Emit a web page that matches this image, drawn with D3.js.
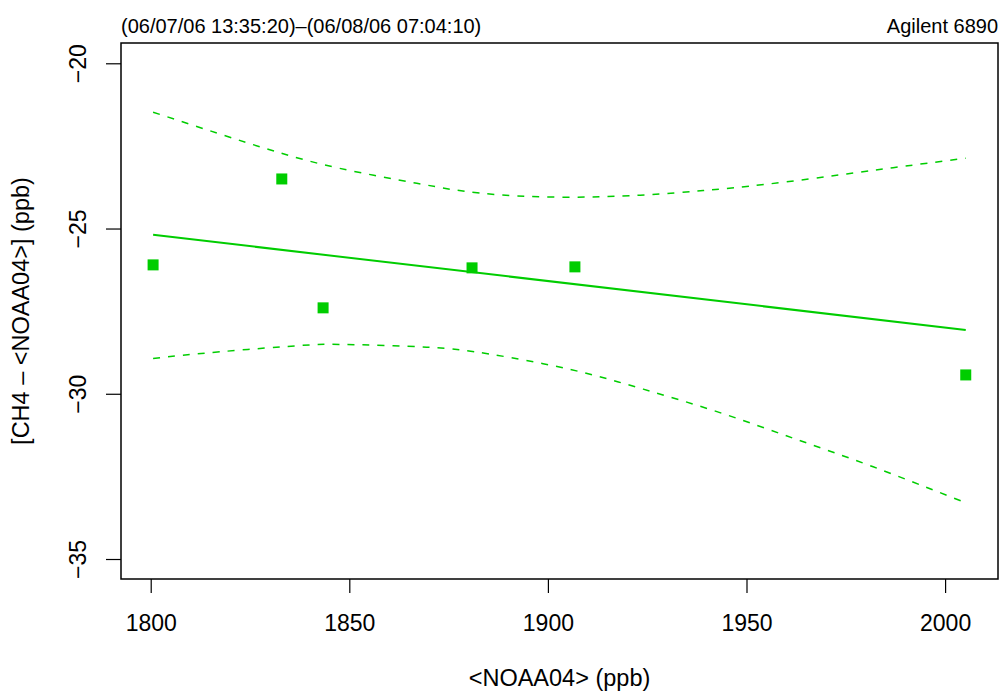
<!DOCTYPE html>
<html>
<head>
<meta charset="utf-8">
<script src="https://cdn.jsdelivr.net/npm/d3@7"></script>
<style>
  body { margin: 0; background: #fff; }
  svg text { font-family: "Liberation Sans", Arial, Helvetica, sans-serif; fill: #000; }
</style>
</head>
<body>
<div id="viz"></div>
<script>
// measured points
var ptX = [1800.6, 1833.0, 1843.4, 1880.9, 1906.8, 2005.2];
var ptY = [-26.10, -23.50, -27.40, -26.19, -26.16, -29.43];

// fitted line end points
var fitX = [1800.6, 2005.2];
var fitY = [-25.19, -28.07];

// dashed bands
var upperX = [1800.6, 1816.9, 1831.7, 1847.6, 1867.0, 1882.9, 1903.0, 1923.2, 1939.1, 1955.0, 1975.2, 1986.9, 2005.2];
var upperY = [-21.48, -22.12, -22.68, -23.18, -23.63, -23.93, -24.05, -23.99, -23.85, -23.66, -23.35, -23.16, -22.87];
var lowerX = [1800.6, 1817.4, 1837.6, 1849.3, 1869.5, 1885.4, 1905.5, 1924.0, 1943.3, 1962.6, 1981.9, 2005.2];
var lowerY = [-28.93, -28.73, -28.54, -28.51, -28.59, -28.80, -29.26, -29.86, -30.57, -31.38, -32.21, -33.30];

var xTicks = [1800, 1850, 1900, 1950, 2000];
var yTicks = [-35, -30, -25, -20];

var titleLeft = '(06/07/06 13:35:20)\u2013(06/08/06 07:04:10)';
var titleRight = 'Agilent 6890';
var xLabel = '<NOAA04> (ppb)';
var yLabel = '[CH4 \u2013 <NOAA04>] (ppb)';

var width = 999,
    height = 691,
    plotL = 121,
    plotR = 998,
    plotT = 43,
    plotB = 579,
    green = '#00cd00';

var xScale = d3.scaleLinear()
    .domain([1792.52, 2013.32])
    .range([plotL, plotR]);

var yScale = d3.scaleLinear()
    .domain([-35.605, -19.386])
    .range([plotB, plotT]);

var svg = d3.select('#viz').append('svg')
    .attr('width', width)
    .attr('height', height)
    .style('background', '#fff');

// axes
var xAxis = svg.append('g')
    .attr('transform', 'translate(0,' + plotB + ')')
    .call(d3.axisBottom(xScale).tickValues(xTicks).tickSize(14)
        .tickFormat(d3.format('d')));
xAxis.select('.domain').remove();
xAxis.selectAll('line').attr('stroke', '#000').attr('stroke-width', 1.2);
xAxis.selectAll('text').style('font-size', '23px').attr('dy', null).attr('y', 52).attr('fill', '#000');

var yAxis = svg.append('g')
    .attr('transform', 'translate(' + plotL + ',0)')
    .call(d3.axisLeft(yScale).tickValues(yTicks).tickSize(15)
        .tickFormat(function(d) { return String(d).replace('-', '\u2212'); }));
yAxis.select('.domain').remove();
yAxis.selectAll('line').attr('stroke', '#000').attr('stroke-width', 1.2);
yAxis.selectAll('text')
    .style('font-size', '23px')
    .attr('x', null).attr('dy', null)
    .attr('text-anchor', 'middle')
    .attr('transform', 'translate(-35,0) rotate(-90)')
    .attr('fill', '#000');

// box
svg.append('rect')
    .attr('x', plotL)
    .attr('y', plotT)
    .attr('width', plotR - plotL)
    .attr('height', plotB - plotT)
    .attr('fill', 'none')
    .attr('stroke', '#000')
    .attr('stroke-width', 1.5);

// bands
var band = d3.line()
    .x(function(d) { return xScale(d[0]); })
    .y(function(d) { return yScale(d[1]); })
    .curve(d3.curveNatural);

svg.append('path')
    .attr('d', band(d3.zip(upperX, upperY)))
    .attr('fill', 'none')
    .attr('stroke', green)
    .attr('stroke-width', 1.5)
    .attr('stroke-dasharray', '7,8');

svg.append('path')
    .attr('d', band(d3.zip(lowerX, lowerY)))
    .attr('fill', 'none')
    .attr('stroke', green)
    .attr('stroke-width', 1.5)
    .attr('stroke-dasharray', '7,8');

// fit line
svg.append('path')
    .attr('d', d3.line()
        .x(function(d) { return xScale(d[0]); })
        .y(function(d) { return yScale(d[1]); })(d3.zip(fitX, fitY)))
    .attr('fill', 'none')
    .attr('stroke', green)
    .attr('stroke-width', 2);

// points
var sq = 11;
svg.selectAll('rect.pt').data(d3.zip(ptX, ptY))
    .enter().append('rect')
    .attr('class', 'pt')
    .attr('x', function(d) { return xScale(d[0]) - sq / 2; })
    .attr('y', function(d) { return yScale(d[1]) - sq / 2; })
    .attr('width', sq)
    .attr('height', sq)
    .attr('fill', green);

// titles
svg.append('text')
    .attr('x', plotL)
    .attr('y', 33)
    .style('font-size', '20px')
    .text(titleLeft);

svg.append('text')
    .attr('x', plotR)
    .attr('y', 33)
    .attr('text-anchor', 'end')
    .style('font-size', '20px')
    .text(titleRight);

svg.append('text')
    .attr('x', (plotL + plotR) / 2)
    .attr('y', 686)
    .attr('text-anchor', 'middle')
    .style('font-size', '23.5px')
    .text(xLabel);

svg.append('text')
    .attr('transform', 'translate(29,' + (plotT + plotB) / 2 + ') rotate(-90)')
    .attr('text-anchor', 'middle')
    .style('font-size', '23.5px')
    .text(yLabel);
</script>
</body>
</html>
